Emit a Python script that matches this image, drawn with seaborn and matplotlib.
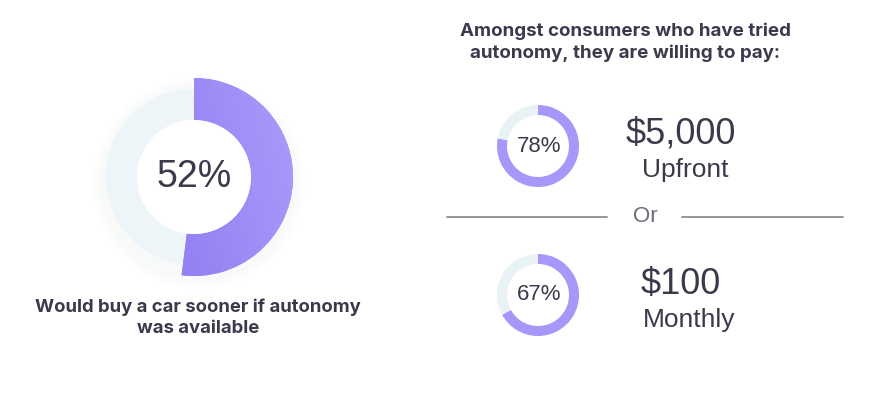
import matplotlib
matplotlib.use("Agg")
import matplotlib.pyplot as plt
import seaborn as sns
import numpy as np
from matplotlib.patches import Circle
from matplotlib.colors import LinearSegmentedColormap

sns.set_theme(style="white")
plt.rcParams['font.family'] = ['Liberation Sans', 'DejaVu Sans']

# ---- data ----
main_share = [52, 48]
main_label = "52%"
main_caption = "Would buy a car sooner if autonomy\nwas available"
title = "Amongst consumers who have tried\nautonomy, they are willing to pay:"
pay_shares = [78, 67]
pay_labels = ["78%", "67%"]
pay_amounts = ["$5,000", "$100"]
pay_terms = ["Upfront", "Monthly"]
separator = "Or"

# ---- style ----
W, H = 881, 393
TEXT = "#3b3a4c"
PURPLE = "#9a89f5"
PURPLE_S = "#a697f8"
GREY = "#eef5f8"
GREY_S = "#e9f2f5"
grad = LinearSegmentedColormap.from_list("pg", ["#8774ee", "#9886f4", "#ab9cfb"])

fig = plt.figure(figsize=(W / 100, H / 100), dpi=100)
ax = fig.add_axes([0, 0, 1, 1])
fig.patch.set_facecolor("white")


def Y(y):
    return H - y


# ---- big donut ----
cx, cy = 194, Y(177)
for r, a in [(106, 0.010), (102, 0.014), (98, 0.016)]:
    ax.add_patch(Circle((cx + 5, cy - 6), r, color="#7d8aa0", alpha=a, lw=0, zorder=0))
ax.pie([100], radius=88, center=(cx, cy), colors=[GREY], frame=True,
       wedgeprops=dict(width=31, linewidth=0))
wedges, _ = ax.pie(main_share, radius=99, center=(cx, cy), startangle=90, counterclock=False,
                   colors=[PURPLE, "none"], frame=True, wedgeprops=dict(width=42, linewidth=0))
gx, gy = np.meshgrid(np.linspace(0, 1, 200), np.linspace(0, 1, 200))
g = 0.8 * gx + 0.2 * gy
img = ax.imshow(g, cmap=grad, extent=(cx - 100, cx + 100, cy - 100, cy + 100),
                origin="lower", zorder=wedges[0].get_zorder() + 0.1, aspect="auto")
img.set_clip_path(wedges[0])
ax.add_patch(Circle((cx, cy), 57, color="white", lw=0, zorder=5))
ax.text(cx, cy, main_label, ha="center", va="center", fontsize=27, color=TEXT, zorder=6)
ax.text(cx + 4, Y(318), main_caption, ha="center", va="center", fontsize=13.3,
        fontweight="bold", family=["Inter", "DejaVu Sans"], color=TEXT,
        linespacing=1.3, zorder=6)

# ---- title ----
ax.text(625, Y(42), title, ha="center", va="center", fontsize=13.5, fontweight="bold",
        family=["Inter", "DejaVu Sans"], color=TEXT, linespacing=1.3)

# ---- small donuts ----
centers = [(538, Y(146)), (538, Y(295))]
amount_y = [Y(134), Y(284)]
term_y = [Y(170), Y(320)]
term_x = [685, 689]
for (sx, sy), share, lab, amt, term, ay, ty, tx in zip(
        centers, pay_shares, pay_labels, pay_amounts, pay_terms, amount_y, term_y, term_x):
    ax.pie([share, 100 - share], radius=41, center=(sx, sy), startangle=90,
           counterclock=False, colors=[PURPLE_S, GREY_S], frame=True,
           wedgeprops=dict(width=10, linewidth=0))
    ax.text(sx + 1, sy, lab, ha="center", va="center", fontsize=16, color=TEXT)
    ax.text(681, ay, amt, ha="center", va="center", fontsize=26, color=TEXT)
    ax.text(tx, ty, term, ha="center", va="center", fontsize=19, color=TEXT)

# ---- separator ----
ax.plot([447, 607], [Y(217), Y(217)], color="#8b8b93", lw=1.3)
ax.plot([682, 843], [Y(217), Y(217)], color="#8b8b93", lw=1.3)
ax.text(645, Y(217), separator, ha="center", va="center", fontsize=16, color="#6c6c76")

ax.set_xlim(0, W)
ax.set_ylim(0, H)
ax.set_aspect("equal")
ax.axis("off")
fig.savefig("out.png", dpi=100, facecolor="white")
